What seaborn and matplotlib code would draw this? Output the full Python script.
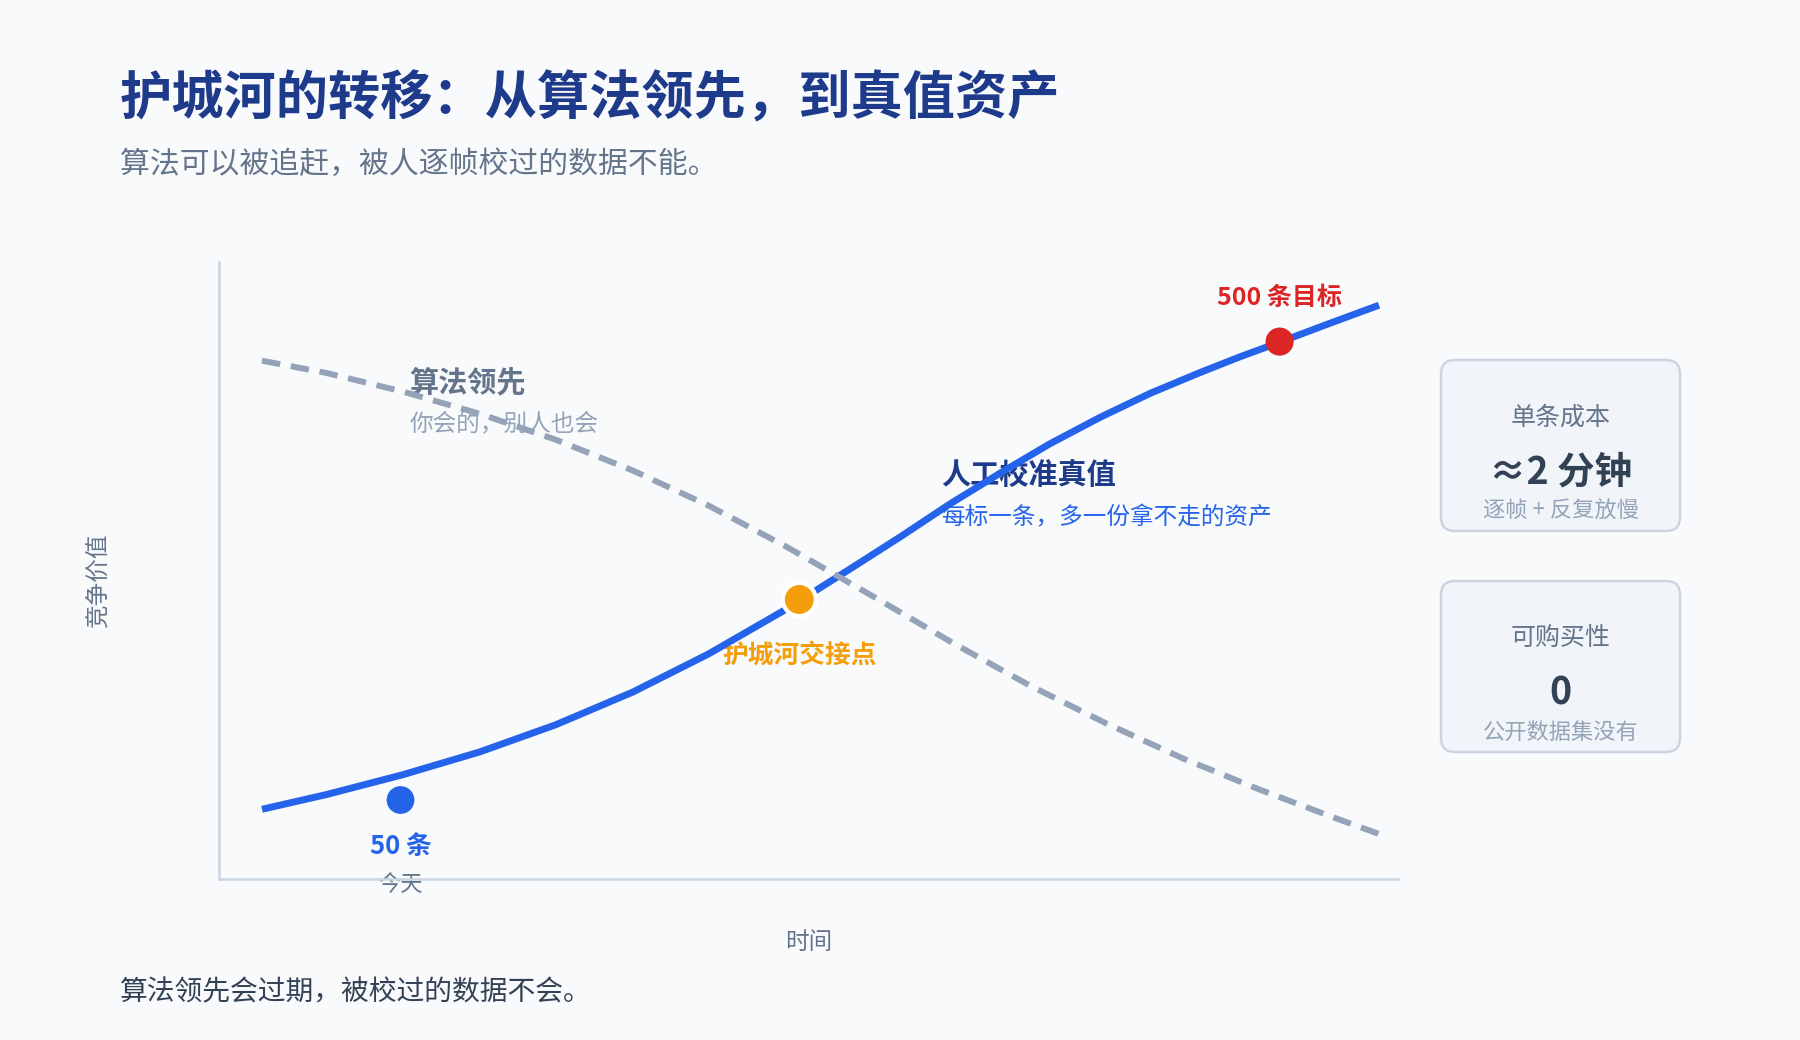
import seaborn as sns
import matplotlib.pyplot as plt
import pandas as pd
from matplotlib.patches import FancyBboxPatch

# Curve data (time on x, competitive value on y, 0-100)
truth_time = [0.0, 0.58, 1.26, 1.95, 2.63, 3.32, 4.00, 4.69, 5.26, 5.71,
              6.16, 6.61, 7.05, 7.50, 7.95, 8.40, 8.75, 9.11, 9.55, 10.0]
truth_value = [11.3, 13.7, 16.9, 20.6, 25.0, 30.3, 36.5, 43.7, 50.2, 55.4,
               60.8, 65.8, 70.5, 74.8, 78.7, 82.1, 84.6, 87.0, 90.0, 93.0]

algo_time = [0.0, 0.58, 1.26, 1.95, 2.63, 3.32, 4.00, 4.69, 5.50, 6.19,
             6.88, 7.56, 8.25, 8.93, 9.62, 10.0]
algo_value = [84.0, 82.0, 79.0, 75.4, 71.2, 66.2, 60.5, 53.9, 45.5, 38.2,
              31.3, 25.2, 19.5, 14.5, 9.8, 7.3]

# Key points
point_names = ["today", "cross", "target"]
point_x = [1.24, 4.81, 9.11]
point_y = [12.8, 45.3, 87.1]
point_colors = ["#2563EB", "#F59E0B", "#DC2626"]

# Side cards
card_titles = ["单条成本", "可购买性"]
card_values = ["≈2 分钟", "0"]
card_notes = ["逐帧 + 反复放慢", "公开数据集没有"]

sns.set_theme(style="white")
plt.rcParams['font.family'] = ['Noto Sans CJK SC', 'DejaVu Sans']

bg_color = "#F8FAFC"
fig = plt.figure(figsize=(18, 10.4), dpi=100, facecolor=bg_color)
ax = fig.add_axes([219 / 1800, 1 - 879 / 1040, 1179 / 1800, 617 / 1040])
ax.set_facecolor(bg_color)

truth_df = pd.DataFrame({"time": truth_time, "value": truth_value})
algo_df = pd.DataFrame({"time": algo_time, "value": algo_value})

sns.lineplot(data=truth_df, x="time", y="value", ax=ax, color="#2563EB",
             linewidth=5, zorder=3, solid_capstyle="butt", solid_joinstyle="round")
sns.lineplot(data=algo_df, x="time", y="value", ax=ax, color="#94A3B8",
             linewidth=4.3, linestyle=(0, (3.1, 1.8)), zorder=4,
             dash_capstyle="butt")

pts_df = pd.DataFrame({"name": point_names, "x": point_x, "y": point_y})
sns.scatterplot(data=pts_df, x="x", y="y", hue="name", palette=point_colors,
                s=[400, 570, 410], ax=ax, legend=False, zorder=5,
                edgecolor=[bg_color, "white", bg_color], linewidth=[0, 3, 0])

ax.set_xlim(-0.385, 10.17)
ax.set_ylim(0, 100)
ax.set_xticks([])
ax.set_yticks([])
for side in ["top", "right"]:
    ax.spines[side].set_visible(False)
for side in ["left", "bottom"]:
    ax.spines[side].set_color("#CBD5E1")
    ax.spines[side].set_linewidth(1.8)

ax.set_xlabel("时间", fontsize=17, color="#64748B")
ax.set_ylabel("竞争价值", fontsize=17, color="#64748B")
ax.xaxis.set_label_coords(0.5004, -0.084)
ax.yaxis.set_label_coords(-0.093, 0.485)

# Annotations inside the plot
ax.text(9.11, 94.2, "500 条目标", color="#DC2626", fontsize=18, fontweight="bold",
        ha="center", va="center", zorder=1)
ax.text(1.24, 5.3, "50 条", color="#2563EB", fontsize=18.5, fontweight="bold",
        ha="center", va="center", zorder=1)
ax.text(1.24, -0.9, "今天", color="#64748B", fontsize=16,
        ha="center", va="center", zorder=1, clip_on=False)
ax.text(4.81, 36.3, "护城河交接点", color="#F59E0B", fontsize=18.5, fontweight="bold",
        ha="center", va="center", zorder=1)
ax.text(1.32, 80.5, "算法领先", color="#64748B", fontsize=21, fontweight="bold",
        ha="left", va="center", zorder=1)
ax.text(1.32, 73.7, "你会的，别人也会", color="#94A3B8", fontsize=17,
        ha="left", va="center", zorder=1)
ax.text(6.08, 65.5, "人工校准真值", color="#1E3A8A", fontsize=21, fontweight="bold",
        ha="left", va="center", zorder=1)
ax.text(6.08, 58.5, "每标一条，多一份拿不走的资产", color="#2563EB", fontsize=17,
        ha="left", va="center", zorder=1)

# Overlay in pixel coordinates for title, footnote and cards
ov = fig.add_axes([0, 0, 1, 1], zorder=-1)
ov.set_xlim(0, 1800)
ov.set_ylim(1040, 0)
ov.axis("off")

ov.text(120, 99, "护城河的转移：从算法领先，到真值资产", fontsize=37.6, fontweight="heavy",
        color="#1E3A8A", ha="left", va="center")
ov.text(120, 164, "算法可以被追赶，被人逐帧校过的数据不能。", fontsize=21.5,
        color="#64748B", ha="left", va="center")
ov.text(120, 992, "算法领先会过期，被校过的数据不会。", fontsize=20,
        color="#334155", ha="left", va="center")

card_tops = [360, 581]
card_h = 171
card_x0, card_w = 1441, 239
r = 14
for top, title, value, note in zip(card_tops, card_titles, card_values, card_notes):
    box = FancyBboxPatch((card_x0 + r, top + r), card_w - 2 * r, card_h - 2 * r,
                         boxstyle=f"round,pad={r}", facecolor="#F1F5F9",
                         edgecolor="#CBD5E1", linewidth=1.8)
    ov.add_patch(box)
    cx = card_x0 + card_w / 2
    ov.text(cx, top + 58, title, fontsize=18, color="#64748B", ha="center", va="center")
    ov.text(cx, top + 112, value, fontsize=27, fontweight="bold", color="#334155",
            ha="center", va="center")
    ov.text(cx, top + 151, note, fontsize=16, color="#94A3B8", ha="center", va="center")

fig.savefig("out.png", dpi=100, facecolor=bg_color)
